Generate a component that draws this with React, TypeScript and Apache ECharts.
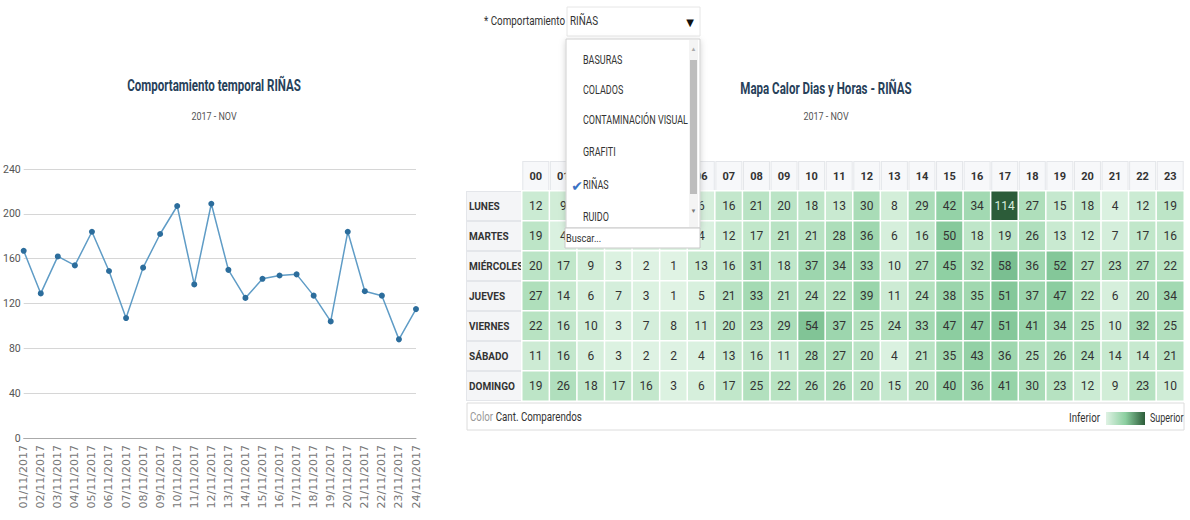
import React, { useEffect, useRef } from "react";
import * as echarts from "echarts";

const dates = [
  "01/11/2017", "02/11/2017", "03/11/2017", "04/11/2017", "05/11/2017", "06/11/2017",
  "07/11/2017", "08/11/2017", "09/11/2017", "10/11/2017", "11/11/2017", "12/11/2017",
  "13/11/2017", "14/11/2017", "15/11/2017", "16/11/2017", "17/11/2017", "18/11/2017",
  "19/11/2017", "20/11/2017", "21/11/2017", "22/11/2017", "23/11/2017", "24/11/2017",
];
const dailyCounts = [167, 129, 162, 154, 184, 149, 107, 152, 182, 207, 137, 209, 150, 125, 142, 145, 146, 127, 104, 184, 131, 127, 88, 115];
const yTicks = [0, 40, 80, 120, 160, 200, 240];

const days = ["LUNES", "MARTES", "MIÉRCOLES", "JUEVES", "VIERNES", "SÁBADO", "DOMINGO"];
const hours = ["00", "01", "02", "03", "04", "05", "06", "07", "08", "09", "10", "11", "12", "13", "14", "15", "16", "17", "18", "19", "20", "21", "22", "23"];
const lunes = [12, 9, 5, 4, 2, 3, 6, 16, 21, 20, 18, 13, 30, 8, 29, 42, 34, 114, 27, 15, 18, 4, 12, 19];
const martes = [19, 4, 6, 3, 2, 3, 4, 12, 17, 21, 21, 28, 36, 6, 16, 50, 18, 19, 26, 13, 12, 7, 17, 16];
const miercoles = [20, 17, 9, 3, 2, 1, 13, 16, 31, 18, 37, 34, 33, 10, 27, 45, 32, 58, 36, 52, 27, 23, 27, 22];
const jueves = [27, 14, 6, 7, 3, 1, 5, 21, 33, 21, 24, 22, 39, 11, 24, 38, 35, 51, 37, 47, 22, 6, 20, 34];
const viernes = [22, 16, 10, 3, 7, 8, 11, 20, 23, 29, 54, 37, 25, 24, 33, 47, 47, 51, 41, 34, 25, 10, 32, 25];
const sabado = [11, 16, 6, 3, 2, 2, 4, 13, 16, 11, 28, 27, 20, 4, 21, 35, 43, 36, 25, 26, 24, 14, 14, 21];
const domingo = [19, 26, 18, 17, 16, 3, 6, 17, 25, 22, 26, 26, 20, 15, 20, 40, 36, 41, 30, 23, 12, 9, 23, 10];
const dayRows = [lunes, martes, miercoles, jueves, viernes, sabado, domingo];

const menuItems = ["BASURAS", "COLADOS", "CONTAMINACIÓN VISUAL", "GRAFITI", "RIÑAS", "RUIDO"];
const heatColors = ["#e2f4e6", "#b6e2c1", "#8ecfa2", "#6ab282", "#48895c", "#2c5c39"];

const FONT = "Roboto, 'Liberation Sans', sans-serif";

export default function App() {
  const ref = useRef<HTMLDivElement>(null);
  useEffect(() => {
    document.body.style.margin = "0";
    const chart = echarts.init(ref.current!, null, { renderer: "svg" });

    // cells hidden behind the open dropdown in the reference
    const covered = (x: number, y: number) => y <= 1 && x >= 2 && x <= 5;
    const heatData: any[] = [];
    dayRows.forEach((row, y) =>
      row.forEach((v, x) => {
        const item: any = { value: [x, y, v] };
        if (v > 80) item.label = { color: "#d8eddd" };
        if (covered(x, y)) item.label = { show: false };
        heatData.push(item);
      })
    );
    const maxVal = Math.max(...dayRows.flat());

    const txt = (x: number, y: number, text: string, opts: any = {}) => ({
      type: "text", z: opts.z ?? 101, x, y, scaleX: opts.scaleX ?? 1,
      style: {
        text, align: opts.align ?? "left", verticalAlign: "middle",
        fill: opts.fill ?? "#333", fontSize: opts.fontSize ?? 12,
        fontWeight: opts.fontWeight ?? "normal", fontFamily: opts.fontFamily ?? FONT,
      },
    });

    const g: any[] = [];
    // titles
    g.push(txt(214, 86, "Comportamiento temporal RIÑAS", { align: "center", fontSize: 17, fontWeight: "bold", fill: "#27415a", scaleX: 0.68, z: 5 }));
    g.push(txt(214, 116, "2017 - NOV", { align: "center", fontSize: 11.5, fill: "#555", scaleX: 0.78, z: 5 }));
    g.push(txt(826, 89, "Mapa Calor Dias y Horas - RIÑAS", { align: "center", fontSize: 17, fontWeight: "bold", fill: "#27415a", scaleX: 0.68, z: 5 }));
    g.push(txt(826, 116, "2017 - NOV", { align: "center", fontSize: 11.5, fill: "#555", scaleX: 0.78, z: 5 }));
    // footer of the heatmap
    g.push({
      type: "rect", z: 0, shape: { x: 467, y: 403, width: 717, height: 27 },
      style: { fill: "#fff", stroke: "#dcdcdc", lineWidth: 1 },
    });
    g.push({
      type: "text", z: 5, x: 470, y: 417, scaleX: 0.78,
      style: {
        text: "{a|Color} {b|Cant. Comparendos}", verticalAlign: "middle",
        rich: {
          a: { fill: "#999", fontSize: 12.5, fontFamily: FONT },
          b: { fill: "#333", fontSize: 12.5, fontFamily: FONT },
        },
      },
    });
    g.push(txt(1100, 418, "Inferior", { align: "right", fontSize: 12.5, scaleX: 0.78, z: 5 }));
    g.push({
      type: "rect", z: 5, shape: { x: 1106, y: 412, width: 39, height: 13 },
      style: {
        fill: new echarts.graphic.LinearGradient(0, 0, 1, 0, [
          { offset: 0, color: "#dff2e4" },
          { offset: 0.5, color: "#8ccfa0" },
          { offset: 1, color: "#2c5c39" },
        ]),
      },
    });
    g.push(txt(1150, 418, "Superior", { fontSize: 12.5, scaleX: 0.72, z: 5 }));

    // select control
    g.push(txt(565, 21, "* Comportamiento", { align: "right", fontSize: 12, scaleX: 0.82 }));
    g.push({
      type: "rect", z: 100, shape: { x: 567, y: 7, width: 133, height: 29 },
      style: { fill: "#fff", stroke: "#e6e6e6", lineWidth: 1 },
    });
    g.push(txt(570, 21, "RIÑAS", { fontSize: 12, scaleX: 0.82 }));
    g.push(txt(690, 22, "▼", { align: "center", fontSize: 10, fill: "#111", fontFamily: "'DejaVu Sans', sans-serif" }));
    // dropdown panel
    g.push({
      type: "rect", z: 100, shape: { x: 566, y: 39, width: 134, height: 189 },
      style: { fill: "#fff", stroke: "#d0d0d0", lineWidth: 1, shadowBlur: 6, shadowColor: "rgba(0,0,0,0.18)", shadowOffsetY: 2 },
    });
    const itemY = [60, 90, 120, 152, 185, 217];
    menuItems.forEach((t, i) => g.push(txt(583, itemY[i], t, { fontSize: 12, scaleX: 0.75 })));
    g.push(txt(577, 186, "✔", { align: "center", fontSize: 14, fill: "#3a72c4", fontFamily: "'DejaVu Sans', sans-serif" }));
    g.push({ type: "rect", z: 101, shape: { x: 689, y: 40, width: 9, height: 187 }, style: { fill: "#f4f4f4" } });
    g.push({ type: "rect", z: 102, shape: { x: 690, y: 60, width: 7, height: 134 }, style: { fill: "#bdbdbd" } });
    g.push(txt(693.5, 49, "▲", { align: "center", fontSize: 6, fill: "#aaa", z: 102, fontFamily: "sans-serif" }));
    g.push(txt(693.5, 211, "▼", { align: "center", fontSize: 6, fill: "#777", z: 102, fontFamily: "sans-serif" }));
    g.push({
      type: "rect", z: 100, shape: { x: 565, y: 228, width: 135, height: 20 },
      style: { fill: "#fff", stroke: "#c8c8c8", lineWidth: 1 },
    });
    g.push(txt(566, 238, "Buscar...", { fontSize: 11.5, scaleX: 0.8 }));

    chart.setOption({
      animation: false,
      backgroundColor: "#fff",
      grid: [
        { left: 23, top: 169, width: 393, height: 269 },
        { left: 522, top: 191, width: 662, height: 210 },
      ],
      xAxis: [
        {
          type: "category", gridIndex: 0, data: dates, boundaryGap: false,
          axisTick: { show: false },
          axisLine: { lineStyle: { color: "#aaa" } },
          axisLabel: { rotate: 90, margin: 7, fontSize: 11, color: "#777", fontFamily: "'DejaVu Sans', sans-serif", interval: 0 },
        },
        {
          type: "category", gridIndex: 1, data: hours, position: "top",
          axisTick: { show: false }, axisLine: { show: false },
          axisLabel: {
            margin: 0, fontSize: 11, fontWeight: "bold", color: "#333", fontFamily: FONT,
            width: 25, height: 29, lineHeight: 29, align: "center",
            backgroundColor: "#f7f8fa", borderColor: "#e4e6ea", borderWidth: 1,
            interval: (i: number) => i < 2 || i > 5,
            showMinLabel: true, showMaxLabel: true,
          },
        },
      ],
      yAxis: [
        {
          type: "value", gridIndex: 0, min: yTicks[0], max: yTicks[yTicks.length - 1], interval: 40,
          axisLine: { show: false }, axisTick: { show: false },
          splitLine: { lineStyle: { color: "#d6d6d6" } },
          axisLabel: { margin: 3, fontSize: 10.5, color: "#555", fontFamily: FONT },
        },
        {
          type: "category", gridIndex: 1, data: days, inverse: true,
          axisLine: { show: false }, axisTick: { show: false },
          axisLabel: {
            margin: 55, align: "left", fontSize: 10, fontWeight: "bold", color: "#333", fontFamily: FONT,
            width: 53, height: 28, lineHeight: 28, padding: [0, 0, 0, 2],
            backgroundColor: "#f4f5f7", borderColor: "#e4e6ea", borderWidth: 1,
          },
        },
      ],
      visualMap: {
        type: "continuous", seriesIndex: 1, min: 0, max: maxVal, show: false,
        inRange: { color: heatColors },
      },
      graphic: g,
      series: [
        {
          type: "line", xAxisIndex: 0, yAxisIndex: 0, data: dailyCounts,
          symbol: "circle", symbolSize: 6,
          lineStyle: { color: "#5f9cc6", width: 1.5 },
          itemStyle: { color: "#2c6d9c" },
        },
        {
          type: "heatmap", xAxisIndex: 1, yAxisIndex: 1, data: heatData,
          label: { show: true, fontSize: 12, color: "#333", fontFamily: FONT },
          itemStyle: { borderColor: "#fff", borderWidth: 1.5 },
        },
      ],
    });
    return () => chart.dispose();
  }, []);
  return <div ref={ref} style={{ width: 1190, height: 520 }} />;
}
